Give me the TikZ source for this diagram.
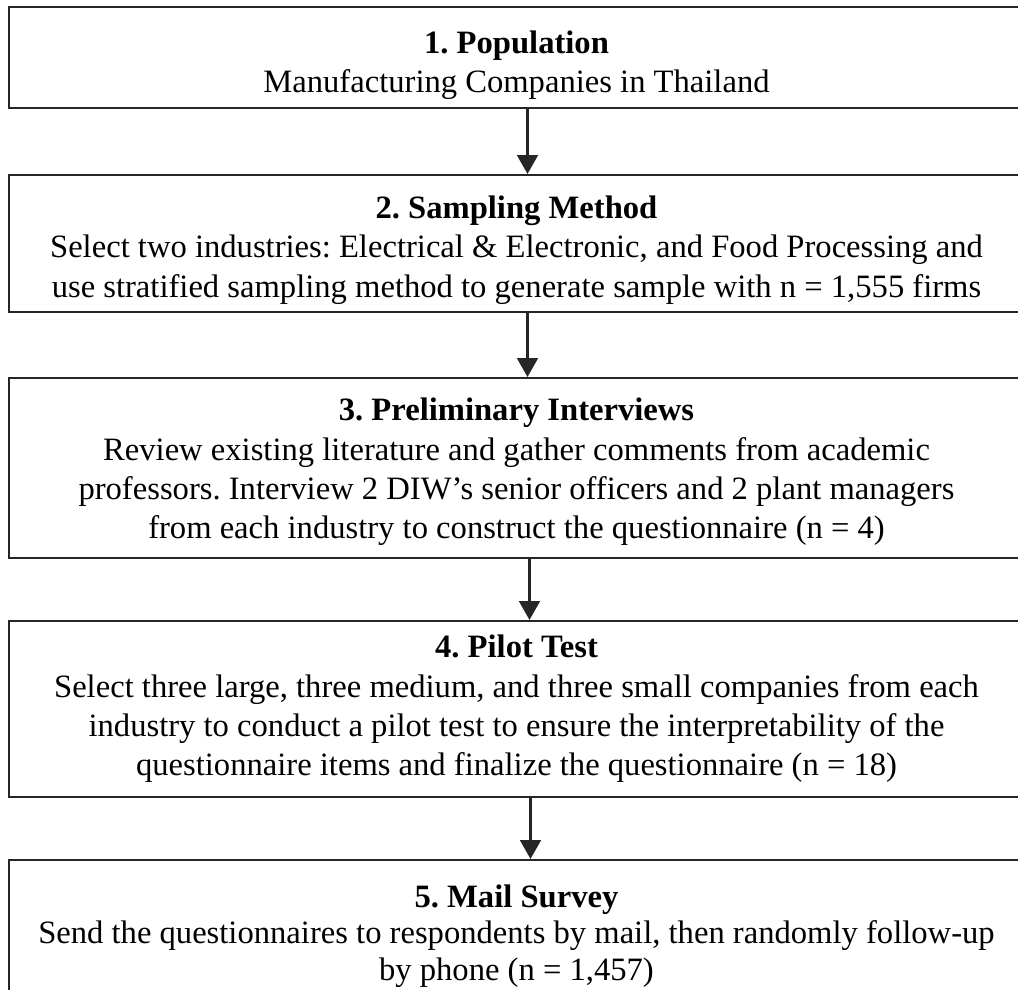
\documentclass[tikz,border=0pt]{standalone}
\usepackage{fontspec}
\setmainfont{Liberation Serif}
\usetikzlibrary{arrows.meta}
\frenchspacing
\begin{document}
\begin{tikzpicture}[x=0.414pt,y=-0.414pt,
  box/.style={draw=black!85, line width=0.85pt, minimum width=1015*0.414pt, inner sep=0pt},
  txt/.style={align=center, font=\fontsize{13.5}{16.3}\selectfont\frenchspacing, inner sep=0pt},
  arr/.style={draw=black!85, line width=0.85pt, -{Triangle[width=8.6pt,length=7.8pt]}}]
\useasboundingbox (0,0) rectangle (1018,989);
\clip (0,0) rectangle (1018,989);
\fill[white] (0,0) rectangle (1018,989);
\node[box, minimum height=101*0.414pt] (b1) at (516.5,57.5) {};
\node[box, minimum height=137*0.414pt] (b2) at (516.5,243.5) {};
\node[box, minimum height=180*0.414pt] (b3) at (516.5,468) {};
\node[box, minimum height=176*0.414pt] (b4) at (516.5,709) {};
\node[box, minimum height=160*0.414pt] (b5) at (516.5,940) {};
\node[txt] (t1) at (516.5,65)
  {\textbf{1. Population}\\Manufacturing Companies in Thailand};
\node[txt] (t2) at (516.5,250)
  {\textbf{2. Sampling Method}\\Select two industries: Electrical \& Electronic, and Food Processing and\\use stratified sampling method to generate sample with n = 1,555 firms};
\node[txt] (t3) at (516.5,472)
  {\textbf{3. Preliminary Interviews}\\Review existing literature and gather comments from academic\\professors. Interview 2 DIW’s senior officers and 2 plant managers\\from each industry to construct the questionnaire (n = 4)};
\node[txt] (t4) at (516.5,709)
  {\textbf{4. Pilot Test}\\Select three large, three medium, and three small companies from each\\industry to conduct a pilot test to ensure the interpretability of the\\questionnaire items and finalize the questionnaire (n = 18)};
\node[txt, font=\fontsize{13.5}{15}\selectfont\frenchspacing] (t5) at (516.5,936)
  {\textbf{5. Mail Survey}\\Send the questionnaires to respondents by mail, then randomly follow-up\\by phone (n = 1,457)};
\draw[arr] ([xshift=11*0.414pt]b1.south) -- ([xshift=11*0.414pt]b2.north);
\draw[arr] ([xshift=11*0.414pt]b2.south) -- ([xshift=11*0.414pt]b3.north);
\draw[arr] ([xshift=13*0.414pt]b3.south) -- ([xshift=13*0.414pt]b4.north);
\draw[arr] ([xshift=14*0.414pt]b4.south) -- ([xshift=14*0.414pt]b5.north);
\end{tikzpicture}
\end{document}
